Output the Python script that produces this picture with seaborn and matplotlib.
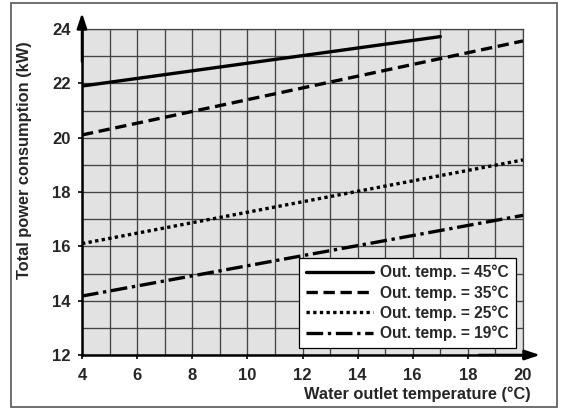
import matplotlib
matplotlib.use("Agg")
import matplotlib.pyplot as plt
import seaborn as sns
import pandas as pd
from matplotlib.patches import Rectangle

sns.set_style("white")
plt.rcParams['font.family'] = ['Liberation Sans', 'DejaVu Sans']
plt.rcParams['font.weight'] = 'bold'

labels = ["Out. temp. = 45°C", "Out. temp. = 35°C", "Out. temp. = 25°C", "Out. temp. = 19°C"]
x_45 = [4, 17]
y_45 = [21.9, 23.72]
x_35 = [4, 20]
y_35 = [20.1, 23.56]
x_25 = [4, 20]
y_25 = [16.1, 19.18]
x_19 = [4, 20]
y_19 = [14.17, 17.14]
xticks = [4, 6, 8, 10, 12, 14, 16, 18, 20]
yticks = [12, 14, 16, 18, 20, 22, 24]

series = [(x_45, y_45), (x_35, y_35), (x_25, y_25), (x_19, y_19)]
dashes = [(None), (3.4, 1.7), (1.0, 1.0), (5.0, 1.4, 1.0, 1.4)]

fig = plt.figure(figsize=(5.64, 4.09), dpi=100)
fig.patches.append(Rectangle((11/564, 1-407/409), (557-11)/564, (407-3)/409,
                             transform=fig.transFigure, fill=False,
                             edgecolor='#555555', lw=1.2, zorder=0))
ax = fig.add_axes([82/564, 1-355/409, (523-82)/564, (355-29)/409])
ax.set_facecolor('#e2e2e2')

for (xs, ys), lab, d in zip(series, labels, dashes):
    df = pd.DataFrame({"x": xs, "y": ys})
    kw = {}
    if d is not None:
        kw['dashes'] = d
    sns.lineplot(data=df, x="x", y="y", ax=ax, color='black', lw=2.4,
                 label=lab, zorder=3, **kw)

ax.set_xlim(4, 20)
ax.set_ylim(12, 24)
ax.set_xticks(xticks)
ax.set_yticks(yticks)
ax.set_xticks(range(5, 20, 2), minor=True)
ax.set_yticks(range(13, 24, 2), minor=True)
ax.grid(True, which='both', color='#444444', lw=0.95, zorder=1)
ax.set_axisbelow(True)
ax.tick_params(axis='both', which='major', labelsize=12, length=3, width=1.2,
               color='black', direction='out')
ax.tick_params(axis='y', which='major', pad=5)
ax.tick_params(axis='x', which='major', pad=6)
ax.tick_params(axis='both', which='minor', length=0)
ax.tick_params(left=True, bottom=True)
for t in ax.get_xticklabels() + ax.get_yticklabels():
    t.set_fontweight('bold')

for s in ['top', 'right']:
    ax.spines[s].set_color('#444444')
    ax.spines[s].set_linewidth(0.9)
for s in ['left', 'bottom']:
    ax.spines[s].set_color('black')
    ax.spines[s].set_linewidth(1.8)

ax.set_xlabel("Water outlet temperature (°C)", fontsize=11.8, fontweight='bold', ha='right')
ax.xaxis.set_label_coords((531-82)/441, -(394-355)/326)
ax.xaxis.label.set_va('center')
ax.set_ylabel("Total power consumption (kW)", fontsize=11.8, fontweight='bold')
ax.yaxis.set_label_coords((25-82)/441, (355-160)/326)
ax.yaxis.label.set_va('center')

# arrows
ax.annotate('', xy=(0, (355-13)/326), xycoords='axes fraction', xytext=(0, 0.9),
            arrowprops=dict(arrowstyle='-|>,head_length=0.9,head_width=0.3', color='black', lw=1.8,
                            shrinkA=0, shrinkB=0), annotation_clip=False)
ax.annotate('', xy=((540-82)/441, 0), xycoords='axes fraction', xytext=(0.9, 0),
            arrowprops=dict(arrowstyle='-|>,head_length=0.9,head_width=0.3', color='black', lw=1.8,
                            shrinkA=0, shrinkB=0), annotation_clip=False)

leg = ax.legend(loc='lower right', bbox_to_anchor=((516-82)/441, (355-348)/326),
                fontsize=11.2, handlelength=4.3, frameon=True, fancybox=False,
                edgecolor='black', framealpha=1, borderpad=0.45, labelspacing=0.3,
                handletextpad=0.45, borderaxespad=0)
leg.get_frame().set_linewidth(0.9)
for t in leg.get_texts():
    t.set_fontweight('bold')

fig.savefig("out.png", dpi=100)
